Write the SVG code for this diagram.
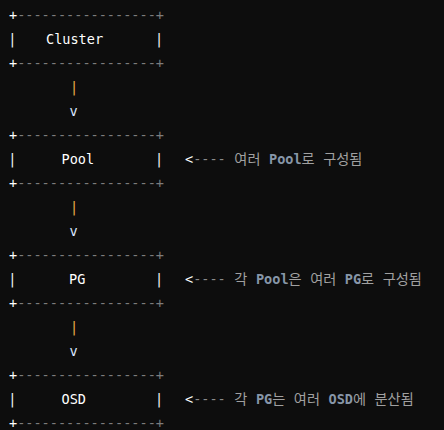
<svg xmlns="http://www.w3.org/2000/svg" width="444" height="430" viewBox="0 0 444 430">
<style>
text{font-family:"DejaVu Sans Mono","Noto Sans CJK KR",monospace;font-size:13.55px;white-space:pre}
.b1{fill:#ffffff}
.bd{fill:#7c7c7c}
.bl{fill:#f2f2f2}
.lb{fill:#ffffff}
.pp{fill:#e6b04a}
.vv{fill:#dce8ff}
.lt{fill:#ffffff}
.da{fill:#8a8a8a}
.ko{fill:#a0a0a0;font-size:14.2px}
.kw{fill:#8796a8;font-weight:bold}
</style>
<rect width="444" height="430" fill="#0d0d0d"/>
<g id="cluster">
<text x="9" y="20"><tspan class="b1">+</tspan><tspan class="bd">-----------------+</tspan></text>
<text class="bl" x="8.2" y="44">|</text>
<text class="lb" x="46" y="44">Cluster</text>
<text class="bl" x="154.9" y="44">|</text>
<text x="9" y="68"><tspan class="b1">+</tspan><tspan class="bd">-----------------+</tspan></text>
</g>
<g id="pool">
<text x="9" y="140"><tspan class="b1">+</tspan><tspan class="bd">-----------------+</tspan></text>
<text class="bl" x="8.2" y="164">|</text>
<text class="lb" x="61.5" y="164">Pool</text>
<text class="bl" x="154.9" y="164">|</text>
<text x="9" y="188"><tspan class="b1">+</tspan><tspan class="bd">-----------------+</tspan></text>
</g>
<g id="pg">
<text x="9" y="260"><tspan class="b1">+</tspan><tspan class="bd">-----------------+</tspan></text>
<text class="bl" x="8.2" y="284">|</text>
<text class="lb" x="69" y="284">PG</text>
<text class="bl" x="154.9" y="284">|</text>
<text x="9" y="308"><tspan class="b1">+</tspan><tspan class="bd">-----------------+</tspan></text>
</g>
<g id="osd">
<text x="9" y="380"><tspan class="b1">+</tspan><tspan class="bd">-----------------+</tspan></text>
<text class="bl" x="8.2" y="404">|</text>
<text class="lb" x="61.5" y="404">OSD</text>
<text class="bl" x="154.9" y="404">|</text>
<text x="9" y="428"><tspan class="b1">+</tspan><tspan class="bd">-----------------+</tspan></text>
</g>
<g id="connectors" text-anchor="middle">
<text class="pp" x="74" y="92">|</text>
<text class="vv" x="73.5" y="116">v</text>
<text class="pp" x="74" y="212">|</text>
<text class="vv" x="73.5" y="236">v</text>
<text class="pp" x="74" y="332">|</text>
<text class="vv" x="73.5" y="356">v</text>
</g>
<g id="notes">
<text x="185" y="164"><tspan class="lt">&lt;</tspan><tspan class="da">----</tspan><tspan class="ko"> 여러 </tspan><tspan class="kw">Pool</tspan><tspan class="ko">로 구성됨</tspan></text>
<text x="185" y="284"><tspan class="lt">&lt;</tspan><tspan class="da">----</tspan><tspan class="ko"> 각 </tspan><tspan class="kw">Pool</tspan><tspan class="ko">은 여러 </tspan><tspan class="kw">PG</tspan><tspan class="ko">로 구성됨</tspan></text>
<text x="185" y="404"><tspan class="lt">&lt;</tspan><tspan class="da">----</tspan><tspan class="ko"> 각 </tspan><tspan class="kw">PG</tspan><tspan class="ko">는 여러 </tspan><tspan class="kw">OSD</tspan><tspan class="ko">에 분산됨</tspan></text>
</g>
</svg>
